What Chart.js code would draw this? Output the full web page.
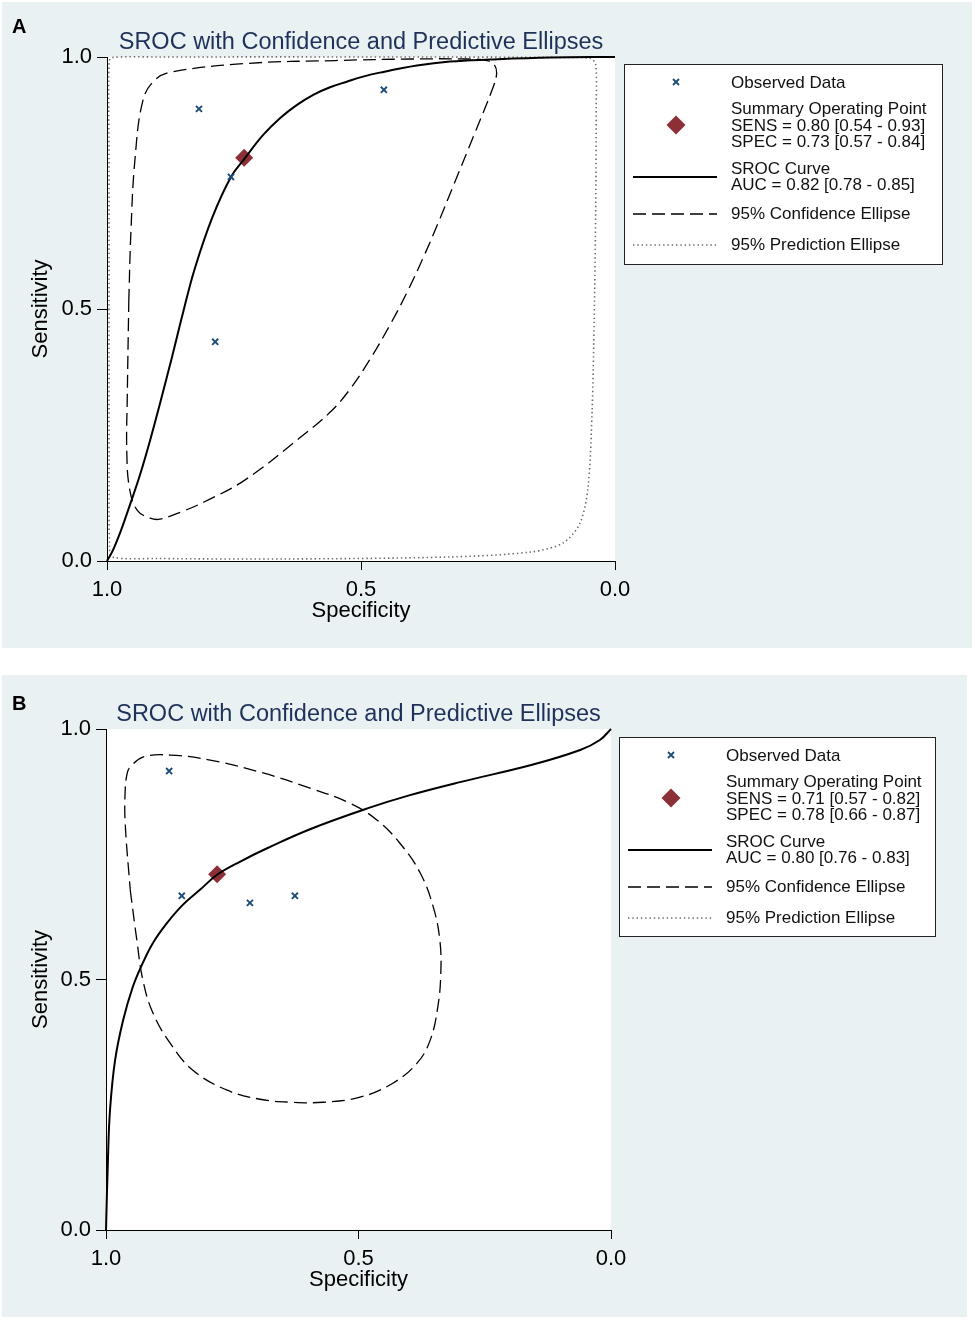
<!DOCTYPE html>
<html>
<head>
<meta charset="utf-8">
<script src="https://cdn.jsdelivr.net/npm/chart.js@4.4.1/dist/chart.umd.min.js"></script>
<style>
  body { margin: 0; background: #fff; width: 975px; height: 1320px; position: relative; }
  .panel { position: absolute; background: #eaf1f3; }
  .panel canvas { display: block; }
  #panelA { left: 2px; top: 2px; width: 970px; height: 646px; }
  #panelB { left: 2px; top: 675px; width: 965px; height: 642px; }
</style>
</head>
<body>
<div class="panel" id="panelA"><canvas id="chartA" width="970" height="646"></canvas></div>
<div class="panel" id="panelB"><canvas id="chartB" width="965" height="642"></canvas></div>
<script>
// ---- shared labels ----
const chartTitle = 'SROC with Confidence and Predictive Ellipses';
const tickValues = [0, 0.5, 1];

// ---- panel A data (specificity, sensitivity) ----
const obsSpecA = [0.819, 0.756, 0.787, 0.455];
const obsSensA = [0.897, 0.762, 0.435, 0.935];
const summaryA = [0.73, 0.80];

const srocSpecA = [1.000, 0.988, 0.972, 0.955, 0.935, 0.915, 0.894, 0.872, 0.850, 0.827, 0.793, 0.756, 0.728, 0.693, 0.659, 0.626, 0.594, 0.561, 0.528, 0.496, 0.463, 0.390, 0.325, 0.246, 0.126, 0.000];
const srocSensA = [0.000, 0.022, 0.062, 0.111, 0.171, 0.240, 0.319, 0.405, 0.494, 0.581, 0.681, 0.762, 0.800, 0.845, 0.879, 0.905, 0.925, 0.940, 0.951, 0.961, 0.969, 0.983, 0.991, 0.995, 0.999, 1.000];

const confSpecA = [0.957, 0.960, 0.961, 0.955, 0.940, 0.915, 0.896, 0.850, 0.809, 0.728, 0.621, 0.562, 0.523, 0.483, 0.441, 0.407, 0.377, 0.348, 0.316, 0.276, 0.240, 0.233, 0.238, 0.252, 0.290, 0.400, 0.550, 0.728, 0.874, 0.906, 0.929, 0.945, 0.953, 0.957];
const confSensA = [0.520, 0.330, 0.214, 0.140, 0.100, 0.085, 0.083, 0.099, 0.117, 0.161, 0.244, 0.294, 0.339, 0.399, 0.472, 0.538, 0.603, 0.671, 0.750, 0.849, 0.940, 0.968, 0.985, 0.993, 0.996, 0.996, 0.993, 0.987, 0.970, 0.954, 0.915, 0.796, 0.651, 0.520];

const predSpecA = [0.996, 0.996, 0.995, 0.990, 0.900, 0.648, 0.327, 0.165, 0.102, 0.069, 0.053, 0.045, 0.041, 0.038, 0.037, 0.038, 0.048, 0.100, 0.423, 0.900, 0.990, 0.996, 0.996, 0.996];
const predSensA = [0.500, 0.200, 0.030, 0.008, 0.005, 0.004, 0.008, 0.018, 0.036, 0.075, 0.147, 0.300, 0.478, 0.700, 0.900, 0.985, 0.997, 0.999, 1.000, 1.000, 0.999, 0.990, 0.800, 0.500];

const legendTextA = ['Observed Data', 'Summary Operating Point', 'SENS = 0.80 [0.54 - 0.93]', 'SPEC = 0.73 [0.57 - 0.84]',
  'SROC Curve', 'AUC = 0.82 [0.78 - 0.85]', '95% Confidence Ellipse', '95% Prediction Ellipse'];

// ---- panel B data ----
const obsSpecB = [0.875, 0.850, 0.715, 0.626];
const obsSensB = [0.916, 0.667, 0.653, 0.667];
const summaryB = [0.78, 0.71];

const srocSpecB = [1.000, 0.996, 0.992, 0.982, 0.966, 0.947, 0.929, 0.907, 0.879, 0.848, 0.814, 0.780, 0.735, 0.681, 0.596, 0.481, 0.398, 0.299, 0.158, 0.061, 0.022, 0.000];
const srocSensB = [0.000, 0.146, 0.240, 0.339, 0.419, 0.485, 0.529, 0.573, 0.613, 0.649, 0.679, 0.709, 0.735, 0.762, 0.800, 0.842, 0.868, 0.894, 0.928, 0.958, 0.978, 1.000];

const confSpecB = [0.952, 0.939, 0.927, 0.907, 0.873, 0.828, 0.760, 0.695, 0.630, 0.570, 0.497, 0.432, 0.384, 0.358, 0.343, 0.337, 0.339, 0.352, 0.378, 0.418, 0.463, 0.517, 0.596, 0.695, 0.794, 0.873, 0.927, 0.952, 0.958, 0.962, 0.962, 0.952];
const confSensB = [0.679, 0.579, 0.499, 0.433, 0.373, 0.319, 0.279, 0.261, 0.255, 0.255, 0.265, 0.293, 0.333, 0.379, 0.445, 0.513, 0.579, 0.645, 0.713, 0.772, 0.818, 0.852, 0.882, 0.914, 0.938, 0.948, 0.944, 0.924, 0.912, 0.878, 0.812, 0.679];

const legendTextB = ['Observed Data', 'Summary Operating Point', 'SENS = 0.71 [0.57 - 0.82]', 'SPEC = 0.78 [0.66 - 0.87]',
  'SROC Curve', 'AUC = 0.80 [0.76 - 0.83]', '95% Confidence Ellipse', '95% Prediction Ellipse'];

// ---- styling ----
const FONT = '"Liberation Sans", Arial, sans-serif';
const obsColor = '#1d4b78';
const diamondColor = '#8c2f36';
const titleColor = '#1e3158';
const dotColor = '#6a6a6a';

const toXY = (xs, ys) => xs.map((x, i) => ({ x: x, y: ys[i] }));

function axes(yWidth, xHeight) {
  const tickFont = { family: FONT, size: 22 };
  const fmt = v => v.toFixed(1);
  const setTicks = s => { s.ticks = tickValues.map(v => ({ value: v })); };
  return {
    x: {
      type: 'linear', reverse: true, min: 0, max: 1,
      afterBuildTicks: setTicks,
      afterFit: s => { s.height = xHeight; },
      ticks: { font: tickFont, color: '#000', padding: 6.5, maxRotation: 0, autoSkip: false, callback: fmt },
      grid: { drawOnChartArea: false, drawTicks: true, tickLength: 9, tickColor: '#000', tickWidth: 1 },
      border: { display: true, color: '#000', width: 1 },
      title: { display: true, text: 'Specificity', color: '#000', font: { family: FONT, size: 22 }, padding: { top: 0, bottom: 24 } }
    },
    y: {
      type: 'linear', min: 0, max: 1,
      afterBuildTicks: setTicks,
      afterFit: s => { s.width = yWidth; },
      ticks: { font: tickFont, color: '#000', padding: 5, autoSkip: false, callback: fmt },
      grid: { drawOnChartArea: false, drawTicks: true, tickLength: 10, tickColor: '#000', tickWidth: 1 },
      border: { display: true, color: '#000', width: 1 },
      title: { display: true, text: 'Sensitivity', color: '#000', font: { family: FONT, size: 22 }, padding: { top: 26, bottom: 0 } }
    }
  };
}

// white plot area, panel letter and the boxed legend
function decorPlugin(letter, letterPos, box, lines) {
  return {
    id: 'decor' + letter,
    beforeDraw(chart) {
      const a = chart.chartArea, ctx = chart.ctx;
      ctx.save();
      ctx.fillStyle = '#fff';
      ctx.fillRect(a.left, a.top, a.right - a.left, a.bottom - a.top);
      ctx.restore();
    },
    afterDraw(chart) {
      const ctx = chart.ctx;
      ctx.save();
      ctx.fillStyle = '#000';
      ctx.font = 'bold 20px ' + FONT;
      ctx.textBaseline = 'middle';
      ctx.fillText(letter, letterPos[0], letterPos[1]);

      ctx.fillStyle = '#fff';
      ctx.fillRect(box.x, box.y, box.w, box.h);
      ctx.strokeStyle = '#222';
      ctx.lineWidth = 1;
      ctx.strokeRect(box.x + 0.5, box.y + 0.5, box.w, box.h);

      ctx.fillStyle = '#111';
      ctx.font = '17px ' + FONT;
      const rows = [19, 45, 62, 78, 105, 121, 150, 181];
      lines.forEach((t, i) => ctx.fillText(t, box.x + 107, box.y + rows[i]));

      const mx = box.x + 52;
      // observed marker
      ctx.strokeStyle = obsColor;
      ctx.lineWidth = 1.8;
      ctx.beginPath();
      ctx.moveTo(mx - 3, box.y + 15); ctx.lineTo(mx + 3, box.y + 21);
      ctx.moveTo(mx + 3, box.y + 15); ctx.lineTo(mx - 3, box.y + 21);
      ctx.stroke();
      // summary diamond
      const dy = box.y + 61, r = 9.5;
      ctx.fillStyle = diamondColor;
      ctx.beginPath();
      ctx.moveTo(mx, dy - r); ctx.lineTo(mx + r, dy); ctx.lineTo(mx, dy + r); ctx.lineTo(mx - r, dy);
      ctx.closePath();
      ctx.fill();
      // line samples
      const x0 = box.x + 9, x1 = box.x + 93;
      const sample = (y, w, color, dash) => {
        ctx.strokeStyle = color; ctx.lineWidth = w; ctx.setLineDash(dash);
        ctx.beginPath(); ctx.moveTo(x0, y); ctx.lineTo(x1, y); ctx.stroke();
      };
      sample(box.y + 113, 2, '#000', []);
      sample(box.y + 150, 1.3, '#000', [13, 6]);
      sample(box.y + 181, 1.5, dotColor, [1.4, 2.9]);
      ctx.restore();
    }
  };
}

function makeChart(id, cfg) {
  const datasets = [
    { data: toXY(cfg.obsSpec, cfg.obsSens), pointStyle: 'crossRot', pointRadius: 4.3, pointBorderWidth: 1.9,
      pointBorderColor: obsColor, showLine: false },
    { data: toXY(cfg.srocSpec, cfg.srocSens), showLine: true, borderColor: '#000', borderWidth: 2,
      pointRadius: 0, tension: 0.4, clip: false },
    { data: [{ x: cfg.summary[0], y: cfg.summary[1] }], pointStyle: 'rectRot', pointRadius: 9,
      pointBackgroundColor: diamondColor, pointBorderWidth: 0, showLine: false },
    { data: toXY(cfg.confSpec, cfg.confSens), showLine: true, borderColor: '#000', borderWidth: 1.3,
      borderDash: [13, 6], pointRadius: 0, tension: 0.4, clip: false }
  ];
  if (cfg.predSpec) {
    datasets.push({ data: toXY(cfg.predSpec, cfg.predSens), showLine: true, borderColor: dotColor, borderWidth: 1.6,
      borderDash: [1.4, 2.9], pointRadius: 0, tension: 0.3, clip: false });
  }
  return new Chart(document.getElementById(id), {
    type: 'scatter',
    data: { datasets: datasets },
    options: {
      responsive: false,
      animation: false,
      events: [],
      elements: { line: { capBezierPoints: false } },
      layout: { autoPadding: false, padding: { left: 0, top: 0, right: cfg.padRight, bottom: 0 } },
      scales: axes(cfg.yWidth, cfg.xHeight),
      plugins: {
        legend: { display: false },
        tooltip: { enabled: false },
        title: {
          display: true, text: chartTitle, fullSize: false, color: titleColor,
          font: { family: FONT, size: 23.5, weight: 'normal' },
          padding: { top: cfg.titleTop, bottom: cfg.titleBottom }
        }
      }
    },
    plugins: [decorPlugin(cfg.letter, cfg.letterPos, cfg.box, cfg.legend)]
  });
}

makeChart('chartA', {
  letter: 'A', letterPos: [10, 25],
  obsSpec: obsSpecA, obsSens: obsSensA, summary: summaryA,
  srocSpec: srocSpecA, srocSens: srocSensA,
  confSpec: confSpecA, confSens: confSensA,
  predSpec: predSpecA, predSens: predSensA,
  legend: legendTextA,
  box: { x: 622, y: 62, w: 318, h: 200 },
  padRight: 357, yWidth: 105, xHeight: 87, titleTop: 26.4, titleBottom: 0.4
});

makeChart('chartB', {
  letter: 'B', letterPos: [10, 29],
  obsSpec: obsSpecB, obsSens: obsSensB, summary: summaryB,
  srocSpec: srocSpecB, srocSens: srocSensB,
  confSpec: confSpecB, confSens: confSensB,
  legend: legendTextB,
  box: { x: 617, y: 62, w: 316, h: 199 },
  padRight: 356, yWidth: 104, xHeight: 87, titleTop: 25.4, titleBottom: 0.4
});
</script>
</body>
</html>
